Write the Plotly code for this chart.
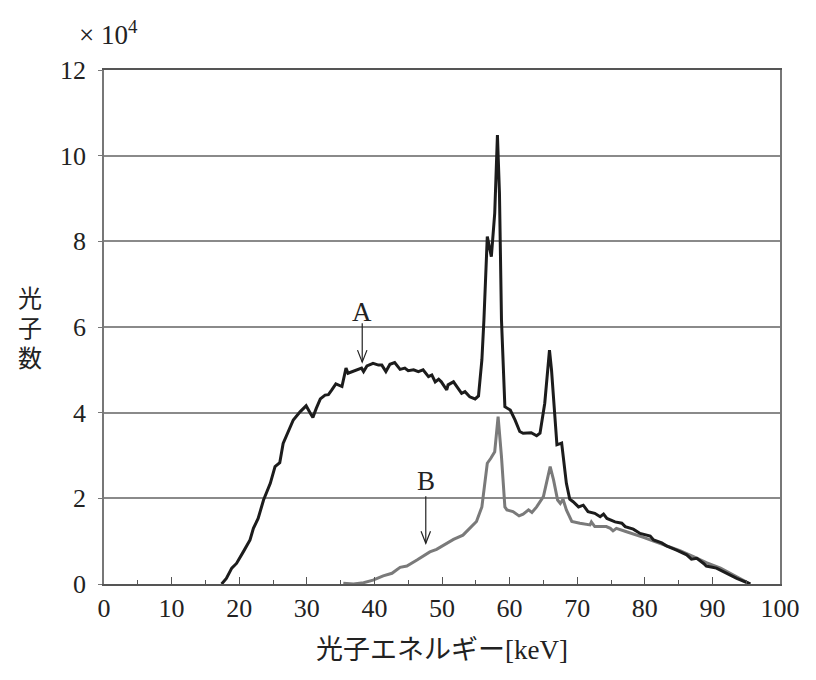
import plotly.graph_objects as go

# Curve A (black)
a_energy = [17.4, 18.1, 18.9, 19.6, 20.6, 21.6, 22.1, 22.8, 23.6, 24.6, 25.3, 26.0, 26.5, 27.3, 28.0,
            29.0, 29.9, 30.5, 30.9, 31.4, 32.0, 32.7, 33.2, 33.7, 34.3, 35.2, 35.8, 36.1, 37.1, 38.1,
            38.4, 38.9, 39.8, 40.6, 41.1, 41.7, 42.3, 43.0, 43.8, 44.5, 45.0, 45.8, 46.5, 47.2, 48.0,
            48.5, 49.0, 49.5, 49.9, 50.7, 50.9, 51.7, 52.2, 52.9, 53.4, 54.1, 54.9, 55.4, 55.9, 56.2,
            56.7, 57.0, 57.3, 57.8, 58.2, 58.5, 58.8, 59.3, 60.1, 60.8, 61.5, 62.0, 63.2, 64.0, 64.5,
            65.2, 65.9, 66.2, 66.7, 67.0, 67.7, 68.4, 68.9, 69.4, 70.2, 70.9, 71.6, 72.6, 73.4, 73.9,
            74.4, 75.6, 76.6, 77.1, 78.3, 79.3, 80.8, 81.3, 82.5, 83.2, 84.7, 86.2, 86.9, 87.7, 88.7,
            89.1, 90.6, 92.1, 93.6, 95.6]
a_count = [0.00, 0.13, 0.37, 0.48, 0.75, 1.03, 1.30, 1.53, 1.96, 2.35, 2.74, 2.83, 3.28, 3.56, 3.83,
           4.02, 4.16, 3.99, 3.89, 4.10, 4.32, 4.41, 4.42, 4.53, 4.67, 4.61, 5.04, 4.92, 4.98, 5.04,
           4.96, 5.09, 5.15, 5.11, 5.11, 4.96, 5.13, 5.17, 5.01, 5.04, 4.98, 5.00, 4.96, 5.00, 4.84,
           4.88, 4.72, 4.78, 4.72, 4.53, 4.65, 4.72, 4.61, 4.45, 4.49, 4.37, 4.32, 4.39, 5.23, 6.16,
           8.11, 7.89, 7.64, 8.66, 10.48, 9.12, 6.16, 4.14, 4.06, 3.83, 3.56, 3.52, 3.53, 3.46, 3.52,
           4.22, 5.46, 5.00, 3.99, 3.25, 3.29, 2.35, 1.98, 1.92, 1.80, 1.84, 1.69, 1.65, 1.57, 1.63,
           1.53, 1.45, 1.42, 1.34, 1.28, 1.18, 1.12, 1.03, 0.96, 0.89, 0.79, 0.68, 0.58, 0.60, 0.48,
           0.42, 0.37, 0.25, 0.13, 0.00]

# Curve B (gray)
b_energy = [35.4, 36.9, 38.4, 39.8, 41.3, 42.6, 43.8, 44.8, 46.3, 48.2, 49.2, 50.7, 51.7, 53.1, 54.1,
            55.1, 55.9, 56.4, 56.7, 57.2, 57.8, 58.3, 58.8, 59.3, 59.6, 60.5, 61.4, 62.0, 62.8, 63.3,
            64.0, 65.0, 66.0, 66.5, 67.1, 67.5, 67.9, 68.4, 69.2, 70.4, 71.9, 72.1, 72.6, 74.3, 74.9,
            75.3, 75.8, 77.3, 78.3, 79.8, 81.3, 83.2, 85.2, 87.2, 89.1, 91.2, 93.1, 95.6]
b_count = [0.02, 0.00, 0.03, 0.09, 0.19, 0.25, 0.39, 0.42, 0.56, 0.75, 0.81, 0.95, 1.04, 1.14, 1.30,
           1.46, 1.80, 2.43, 2.82, 2.93, 3.09, 3.91, 2.97, 1.80, 1.73, 1.69, 1.59, 1.63, 1.73, 1.67,
           1.80, 2.04, 2.74, 2.43, 1.96, 1.88, 1.98, 1.73, 1.46, 1.42, 1.38, 1.45, 1.34, 1.34, 1.30,
           1.24, 1.30, 1.22, 1.17, 1.09, 1.00, 0.89, 0.78, 0.64, 0.50, 0.37, 0.21, 0.00]

x_ticks = [0, 10, 20, 30, 40, 50, 60, 70, 80, 90, 100]
y_ticks = [0, 2, 4, 6, 8, 10, 12]

# label annotations: (text, x, y_text, y_tail, y_tip)
labels = [("A", 38.2, 6.36, 6.09, 5.18), ("B", 47.6, 2.40, 2.05, 0.95)]
y_title_chars = ["光", "子", "数"]

SERIF = "Liberation Serif, Noto Sans CJK JP, serif"
INK = "#222222"

fig = go.Figure()
fig.add_trace(go.Scatter(x=b_energy, y=b_count, mode="lines",
                         line=dict(color="#7a7a7a", width=3), showlegend=False))
fig.add_trace(go.Scatter(x=a_energy, y=a_count, mode="lines",
                         line=dict(color="#1c1c1c", width=3), showlegend=False))

shapes = []
annotations = []
hx = 0.7   # arrowhead half-width (x units)
hy = 0.28  # arrowhead height (y units)
for text, x, yt, y0, y1 in labels:
    annotations.append(dict(text=text, x=x, y=yt, xref="x", yref="y", showarrow=False,
                            font=dict(family=SERIF, size=27, color=INK),
                            xanchor="center", yanchor="middle"))
    shapes.append(dict(type="line", x0=x, x1=x, y0=y0, y1=y1, xref="x", yref="y",
                       line=dict(color=INK, width=1.2)))
    shapes.append(dict(type="path", xref="x", yref="y",
                       path=f"M {x-hx},{y1+hy} L {x},{y1} L {x+hx},{y1+hy}",
                       line=dict(color=INK, width=1.2)))

annotations.append(dict(text="× 10<sup>4</sup>", xref="paper", yref="paper", x=0.006, y=1.072,
                        showarrow=False, xanchor="center", yanchor="middle",
                        font=dict(family=SERIF, size=27, color=INK)))
for i, ch in enumerate(y_title_chars):
    annotations.append(dict(text=ch, xref="paper", yref="paper", x=-0.109,
                            y=(584 - (299 + 30 * i)) / 514,
                            showarrow=False, xanchor="center", yanchor="middle",
                            font=dict(family=SERIF, size=24, color=INK)))
annotations.append(dict(text="光子エネルギー[keV]", xref="paper", yref="paper", x=0.5, y=-0.128,
                        showarrow=False, xanchor="center", yanchor="middle",
                        font=dict(family=SERIF, size=27, color=INK)))

fig.update_layout(
    width=816, height=680,
    margin=dict(l=104, r=36, t=70, b=96),
    paper_bgcolor="white", plot_bgcolor="white",
    shapes=shapes, annotations=annotations,
    xaxis=dict(range=[0, 100], tickvals=x_ticks, ticktext=[str(v) for v in x_ticks],
               ticks="inside", ticklen=7, tickcolor="#555", tickwidth=1,
               minor=dict(ticks="inside", ticklen=4, dtick=5, tickcolor="#555", showgrid=False),
               showgrid=False, showline=True, linecolor="#555", linewidth=1.5, mirror=True,
               zeroline=False, tickfont=dict(family=SERIF, size=26, color=INK)),
    yaxis=dict(range=[0, 12], tickvals=y_ticks, ticktext=[str(v) for v in y_ticks],
               ticks="outside", ticklen=4, tickcolor="#777", ticklabelstandoff=7,
               showgrid=True, gridcolor="#8a8a8a", gridwidth=1.5,
               showline=True, linecolor="#777", linewidth=1.5, mirror=True,
               zeroline=False, tickfont=dict(family=SERIF, size=26, color=INK)),
)

fig.write_html("out.html")
